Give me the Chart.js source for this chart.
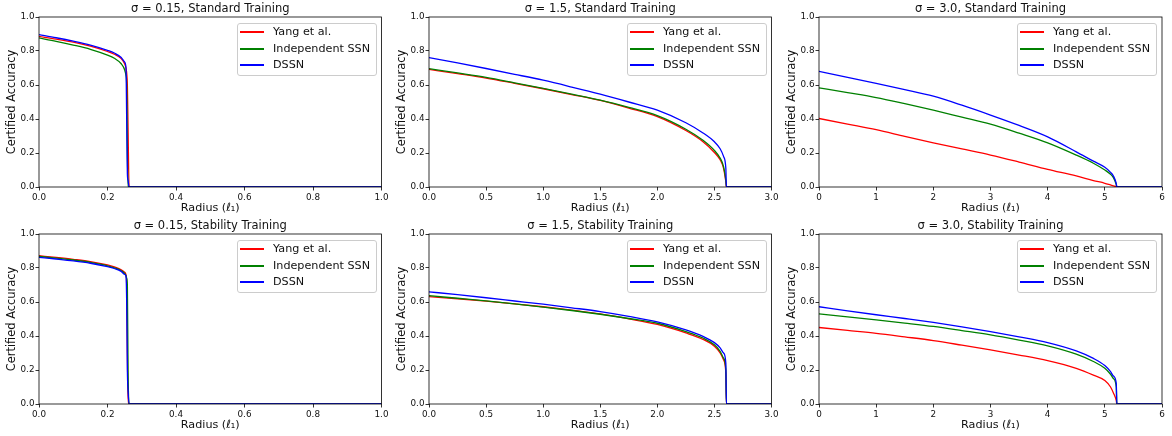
<!DOCTYPE html>
<html>
<head>
<meta charset="utf-8">
<script src="https://cdn.jsdelivr.net/npm/chart.js@4.4.1/dist/chart.umd.min.js"></script>
<style>
  body { margin: 0; background: #fff; width: 1172px; height: 436px; overflow: hidden; font-family: "DejaVu Sans", sans-serif; }
  .panel { position: absolute; }
  .legend { position: absolute; left: 237px; top: 23px; width: 140px; height: 53px; box-sizing: border-box;
            border: 1px solid #ccc; border-radius: 3px; background: rgba(255,255,255,0.8); font-size: 11.2px; color: #111; }
  .item { position: absolute; left: 0; height: 14px; width: 138px; }
  .swatch { position: absolute; left: 2px; top: 6px; width: 24px; height: 1.5px; }
  .label { position: absolute; left: 35px; top: 0; line-height: 14px; white-space: nowrap; }
</style>
</head>
<body>
<div id="wrap"></div>
<script>
// series names, shared by all six panels
const seriesNames = ['Yang et al.', 'Independent SSN', 'DSSN'];

// radius grids (x values) for each sigma
const radius015 = [0, 0.05, 0.1, 0.15, 0.2, 0.22, 0.24, 0.25, 0.254, 0.256, 0.258, 0.26, 0.263, 1.0];
const radius15  = [0, 0.25, 0.5, 0.75, 1.0, 1.25, 1.5, 1.75, 2.0, 2.25, 2.4, 2.5, 2.55, 2.58, 2.6, 2.605, 3.0];
const radius30  = [0, 0.5, 1, 1.5, 2, 2.5, 3, 3.5, 4, 4.5, 4.8, 5, 5.1, 5.15, 5.2, 5.21, 6];

// sigma = 0.15, standard training
const std015Yang  = [0.886, 0.870, 0.852, 0.828, 0.797, 0.781, 0.755, 0.725, 0.700, 0.670, 0.600, 0.350, 0, 0];
const std015Indep = [0.877, 0.857, 0.835, 0.810, 0.776, 0.757, 0.725, 0.690, 0.655, 0.600, 0.200, 0.000, 0, 0];
const std015DSSN  = [0.896, 0.878, 0.858, 0.835, 0.804, 0.788, 0.762, 0.735, 0.700, 0.400, 0.080, 0.040, 0, 0];

// sigma = 1.5, standard training
const std15Yang  = [0.692, 0.667, 0.641, 0.610, 0.578, 0.544, 0.509, 0.464, 0.414, 0.332, 0.266, 0.203, 0.160, 0.110, 0.030, 0, 0];
const std15Indep = [0.696, 0.671, 0.645, 0.613, 0.580, 0.546, 0.511, 0.468, 0.420, 0.340, 0.275, 0.215, 0.170, 0.120, 0.040, 0, 0];
const std15DSSN  = [0.761, 0.730, 0.697, 0.663, 0.628, 0.588, 0.546, 0.500, 0.452, 0.378, 0.318, 0.266, 0.225, 0.180, 0.110, 0, 0];

// sigma = 3.0, standard training
const std30Yang  = [0.403, 0.370, 0.337, 0.298, 0.260, 0.224, 0.188, 0.147, 0.104, 0.065, 0.038, 0.022, 0.012, 0.007, 0.002, 0, 0];
const std30Indep = [0.583, 0.555, 0.526, 0.490, 0.452, 0.411, 0.370, 0.317, 0.260, 0.188, 0.140, 0.100, 0.075, 0.055, 0.015, 0, 0];
const std30DSSN  = [0.680, 0.645, 0.610, 0.573, 0.534, 0.481, 0.423, 0.362, 0.295, 0.207, 0.152, 0.116, 0.086, 0.065, 0.020, 0, 0];

// sigma = 0.15, stability training
const stab015Yang  = [0.872, 0.862, 0.851, 0.838, 0.818, 0.806, 0.790, 0.775, 0.760, 0.700, 0.300, 0.050, 0, 0];
const stab015Indep = [0.868, 0.858, 0.847, 0.833, 0.813, 0.801, 0.784, 0.768, 0.755, 0.740, 0.700, 0.200, 0, 0];
const stab015DSSN  = [0.863, 0.853, 0.842, 0.828, 0.808, 0.797, 0.780, 0.763, 0.752, 0.600, 0.200, 0.080, 0, 0];

// sigma = 1.5, stability training
const stab15Yang  = [0.632, 0.619, 0.605, 0.589, 0.572, 0.552, 0.530, 0.501, 0.468, 0.418, 0.380, 0.340, 0.300, 0.260, 0.180, 0, 0];
const stab15Indep = [0.637, 0.622, 0.607, 0.589, 0.570, 0.550, 0.528, 0.503, 0.475, 0.426, 0.388, 0.348, 0.310, 0.270, 0.200, 0, 0];
const stab15DSSN  = [0.660, 0.643, 0.625, 0.606, 0.587, 0.566, 0.544, 0.516, 0.483, 0.436, 0.398, 0.361, 0.330, 0.300, 0.240, 0, 0];

// sigma = 3.0, stability training
const stab30Yang  = [0.450, 0.433, 0.416, 0.395, 0.373, 0.346, 0.318, 0.288, 0.255, 0.210, 0.170, 0.138, 0.100, 0.065, 0.020, 0, 0];
const stab30Indep = [0.530, 0.513, 0.495, 0.476, 0.456, 0.432, 0.407, 0.376, 0.342, 0.293, 0.250, 0.210, 0.175, 0.150, 0.100, 0, 0];
const stab30DSSN  = [0.572, 0.548, 0.525, 0.503, 0.480, 0.454, 0.426, 0.395, 0.361, 0.312, 0.268, 0.226, 0.190, 0.165, 0.120, 0, 0];

// tick values and labels
const yTickValues = [0, 0.2, 0.4, 0.6, 0.8, 1.0];
const yTickLabels = ['0.0', '0.2', '0.4', '0.6', '0.8', '1.0'];
const xTicks015 = [0, 0.2, 0.4, 0.6, 0.8, 1.0];
const xLabels015 = ['0.0', '0.2', '0.4', '0.6', '0.8', '1.0'];
const xTicks15 = [0, 0.5, 1.0, 1.5, 2.0, 2.5, 3.0];
const xLabels15 = ['0.0', '0.5', '1.0', '1.5', '2.0', '2.5', '3.0'];
const xTicks30 = [0, 1, 2, 3, 4, 5, 6];
const xLabels30 = ['0', '1', '2', '3', '4', '5', '6'];

const colors = ['#ff0000', '#008000', '#0000ff'];
const FONT = '"DejaVu Sans", sans-serif';

const panels = [
  { title: 'σ = 0.15, Standard Training',  r: radius015, ys: [std015Yang, std015Indep, std015DSSN], xt: xTicks015, xl: xLabels015 },
  { title: 'σ = 1.5, Standard Training',   r: radius15,  ys: [std15Yang, std15Indep, std15DSSN],    xt: xTicks15,  xl: xLabels15 },
  { title: 'σ = 3.0, Standard Training',   r: radius30,  ys: [std30Yang, std30Indep, std30DSSN],    xt: xTicks30,  xl: xLabels30 },
  { title: 'σ = 0.15, Stability Training', r: radius015, ys: [stab015Yang, stab015Indep, stab015DSSN], xt: xTicks015, xl: xLabels015 },
  { title: 'σ = 1.5, Stability Training',  r: radius15,  ys: [stab15Yang, stab15Indep, stab15DSSN],    xt: xTicks15,  xl: xLabels15 },
  { title: 'σ = 3.0, Stability Training',  r: radius30,  ys: [stab30Yang, stab30Indep, stab30DSSN],    xt: xTicks30,  xl: xLabels30 }
];

// black box around the plot area, like matplotlib spines
const frame = {
  id: 'frame',
  afterDatasetsDraw(chart) {
    const a = chart.chartArea, ctx = chart.ctx;
    ctx.save();
    ctx.strokeStyle = '#000';
    ctx.lineWidth = 0.8;
    ctx.strokeRect(a.left, a.top, a.right - a.left, a.bottom - a.top);
    ctx.restore();
  }
};

const lefts = [0, 390, 780];
const widths = [390, 390, 392];
const tops = [0, 217];
const wrap = document.getElementById('wrap');

panels.forEach((p, i) => {
  const col = i % 3, row = Math.floor(i / 3);
  const div = document.createElement('div');
  div.className = 'panel';
  div.style.left = lefts[col] + 'px';
  div.style.top = tops[row] + 'px';
  div.style.width = widths[col] + 'px';
  div.style.height = '216px';
  const canvas = document.createElement('canvas');
  canvas.width = widths[col];
  canvas.height = 216;
  div.appendChild(canvas);

  // legend box
  const leg = document.createElement('div');
  leg.className = 'legend';
  [8, 25, 41].forEach((cy, k) => {
    const it = document.createElement('div');
    it.className = 'item';
    it.style.top = (cy - 7) + 'px';
    it.innerHTML = '<span class="swatch" style="background:' + colors[k] + '"></span><span class="label">' + seriesNames[k] + '</span>';
    leg.appendChild(it);
  });
  div.appendChild(leg);
  wrap.appendChild(div);

  // DSSN drawn on top, then Independent SSN, then Yang et al.
  const datasets = p.ys.map((vals, k) => ({
    label: seriesNames[k],
    data: p.r.map((x, j) => ({ x: x, y: vals[j] })),
    borderColor: colors[k],
    borderWidth: 1.3,
    pointRadius: 0,
    fill: false,
    cubicInterpolationMode: 'monotone',
    order: 3 - k
  }));

  new Chart(canvas, {
    type: 'line',
    data: { datasets: datasets },
    options: {
      responsive: false,
      animation: false,
      layout: { padding: { left: 0, right: widths[col] - 382, top: 0, bottom: 0 } },
      plugins: {
        legend: { display: false },
        tooltip: { enabled: false },
        title: {
          display: true, fullSize: false, text: p.title, color: '#111',
          font: { family: FONT, size: 11.5, weight: 'normal' },
          padding: { top: 2, bottom: 1.2 }
        }
      },
      scales: {
        x: {
          type: 'linear', min: 0, max: p.xt[p.xt.length - 1],
          afterBuildTicks: s => { s.ticks = p.xt.map(v => ({ value: v })); },
          afterFit: s => { s.height = 29; },
          ticks: { color: '#111', font: { family: FONT, size: 8.8 }, padding: 1.5, maxRotation: 0,
                   callback: (v, idx) => p.xl[idx] },
          grid: { drawOnChartArea: false, drawTicks: true, tickLength: 3.5, color: '#000', lineWidth: 0.8 },
          border: { display: false },
          title: { display: true, text: 'Radius (ℓ₁)', color: '#111',
                   font: { family: FONT, size: 11.2 }, padding: { top: 0, bottom: 1.3 } }
        },
        y: {
          type: 'linear', min: 0, max: 1,
          afterBuildTicks: s => { s.ticks = yTickValues.map(v => ({ value: v })); },
          afterFit: s => { s.width = 39; },
          ticks: { color: '#111', font: { family: FONT, size: 8.8 }, padding: 1,
                   callback: (v, idx) => yTickLabels[idx] },
          grid: { drawOnChartArea: false, drawTicks: true, tickLength: 3.5, color: '#000', lineWidth: 0.8 },
          border: { display: false },
          title: { display: true, text: 'Certified Accuracy', color: '#111',
                   font: { family: FONT, size: 11.4 }, padding: { top: 5.2, bottom: 0 } }
        }
      }
    },
    plugins: [frame]
  });
});
</script>
</body>
</html>
